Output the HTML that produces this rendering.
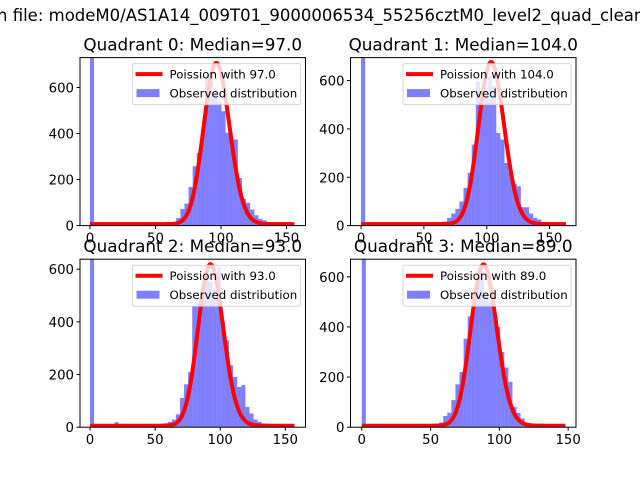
<!DOCTYPE html>
<html><head><meta charset="utf-8"><style>
html,body{margin:0;padding:0;background:#fff;}
svg{display:block;font-family:"DejaVu Sans","Liberation Sans",sans-serif;}
</style></head><body>
<svg id="fig" width="640" height="480" viewBox="0 0 640 480" xmlns="http://www.w3.org/2000/svg">
<rect width="640" height="480" fill="#fff"/>
<text x="-3" y="21" font-size="16.5" fill="#000">n file: modeM0/AS1A14_009T01_9000006534_55256cztM0_level2_quad_clean.evt</text>
</svg>
<script>
const medians=[97,104,93,89];
const titles=["Quadrant 0: Median=97.0","Quadrant 1: Median=104.0","Quadrant 2: Median=93.0","Quadrant 3: Median=89.0"];
const dataMax=[156.8,163,157,148];
const binCount=50;
const peakAmp=[700,670,613,643];
const yLimTop=[730,695,638,670];
const xLim=[[-7.6,164.5],[-8.4,171],[-7.7,165.5],[-8.2,155.7]];
const counts0=[2000,0,0,0,0,0,0,0,0,0,0,0,0,0,0,0,0,0,0,1,15,33,72,96,168,258,316,417,656,627,577,540,497,403,377,374,207,116,99,70,45,29,23,15,6,4,3,2,1,1];
const counts1=[2000,0,0,0,0,0,0,0,0,0,0,0,0,0,0,0,0,0,0,2,17,32,50,69,100,156,218,335,597,500,556,618,577,383,356,259,221,172,163,76,76,50,32,25,12,8,5,3,2,2];
const counts2=[2000,0,0,0,0,11,19,0,0,0,0,0,0,0,0,0,0,0,15,20,29,49,111,163,210,460,470,508,571,552,527,609,400,330,235,191,153,160,77,52,29,20,14,8,5,3,2,1,1,0];
const counts3=[2000,0,0,0,0,0,0,0,0,0,0,0,0,0,0,0,0,0,2,19,45,58,108,171,220,353,442,519,592,625,532,499,466,400,300,238,181,81,57,35,17,13,9,5,3,2,1,1,0,0];
const allCounts=[counts0,counts1,counts2,counts3];
const xTicks=[0,50,100,150];
const yTicks=[0,200,400,600];

const NS="http://www.w3.org/2000/svg";
const svg=document.getElementById('fig');
function mk(tag,attrs,parent){const e=document.createElementNS(NS,tag);for(const k in attrs)e.setAttribute(k,attrs[k]);(parent||svg).appendChild(e);return e;}
function lgamma(n){let s=0;for(let i=2;i<=n;i++)s+=Math.log(i);return s;}
const boxes=[[80,57.6,225.5,168],[350.5,57.6,225.5,168],[80,259.2,225.5,168],[350.5,259.2,225.5,168]];
for(let q=0;q<4;q++){
  const [L,T,W,H]=boxes[q];
  const g=mk('g',{});
  
  
  const xs=v=>L+(v-xLim[q][0])/(xLim[q][1]-xLim[q][0])*W;
  const ys=v=>T+H-v/yLimTop[q]*H;
  const cid='clip'+q;
  const cp=mk('clipPath',{id:cid},g);mk('rect',{x:L,y:T,width:W,height:H},cp);
  const plot=mk('g',{'clip-path':'url(#'+cid+')'},g);
  const bw=dataMax[q]/binCount;
  const c=allCounts[q];
  for(let i=0;i<c.length;i++){
    if(!c[i])continue;
    const x0=xs(i*bw),x1=xs((i+1)*bw);
    const r=mk('rect',{x:x0,y:ys(c[i]),width:x1-x0,height:ys(0)-ys(c[i]),fill:'#0000ff','fill-opacity':0.5},plot);
    
    
  }
  const mu=medians[q];
  const pmfMax=Math.exp(Math.floor(mu)*Math.log(mu)-mu-lgamma(Math.floor(mu)));
  let d='';
  for(let k=0;k<=Math.floor(dataMax[q]);k++){
    const p=Math.exp(k*Math.log(mu)-mu-lgamma(k))/pmfMax*peakAmp[q];
    d+=(k?'L':'M')+xs(k).toFixed(2)+','+(ys(p)-1.5).toFixed(2);
  }
  const line=mk('path',{d:d,fill:'none',stroke:'#ff0000','stroke-width':4,'stroke-linejoin':'round'},plot);
  
  
  mk('rect',{x:L,y:T,width:W,height:H,fill:'none',stroke:'#000','stroke-width':1},g);
  for(const t of xTicks){
    const x=xs(t);if(x<L||x>L+W)continue;
    mk('line',{x1:x,x2:x,y1:T+H,y2:T+H+3.5,stroke:'#000'},g);
    const tx=mk('text',{x:x,y:T+H+17,'font-size':13.3,'text-anchor':'middle'},g);tx.textContent=t;
    
    
  }
  for(const t of yTicks){
    const y=ys(t);
    mk('line',{x1:L-3.5,x2:L,y1:y,y2:y,stroke:'#000'},g);
    const tx=mk('text',{x:L-6,y:y+5,'font-size':13.3,'text-anchor':'end'},g);tx.textContent=t;
    
    
  }
  const ti=mk('text',{x:L+W/2,y:T-7,'font-size':16.8,'text-anchor':'middle'},g);ti.textContent=titles[q];
  
  
  const lg=mk('g',{},g);
  
  
  const lx=L+W-173, ly=T+6;
  mk('rect',{x:lx,y:ly,width:168,height:41,rx:2,fill:'#fff','fill-opacity':0.8,stroke:'#ccc','stroke-opacity':0.8},lg);
  mk('line',{x1:lx+3,x2:lx+30,y1:ly+10.5,y2:ly+10.5,stroke:'#ff0000','stroke-width':4},lg);
  const t1=mk('text',{x:lx+37,y:ly+15,'font-size':11.8},lg);t1.textContent='Poission with '+mu.toFixed(1);
  
  
  mk('rect',{x:lx+4,y:ly+25.5,width:23,height:8,fill:'#0000ff','fill-opacity':0.5},lg);
  const t2=mk('text',{x:lx+37,y:ly+34,'font-size':11.8},lg);t2.textContent='Observed distribution';
  
  
}
</script>
</body></html>
